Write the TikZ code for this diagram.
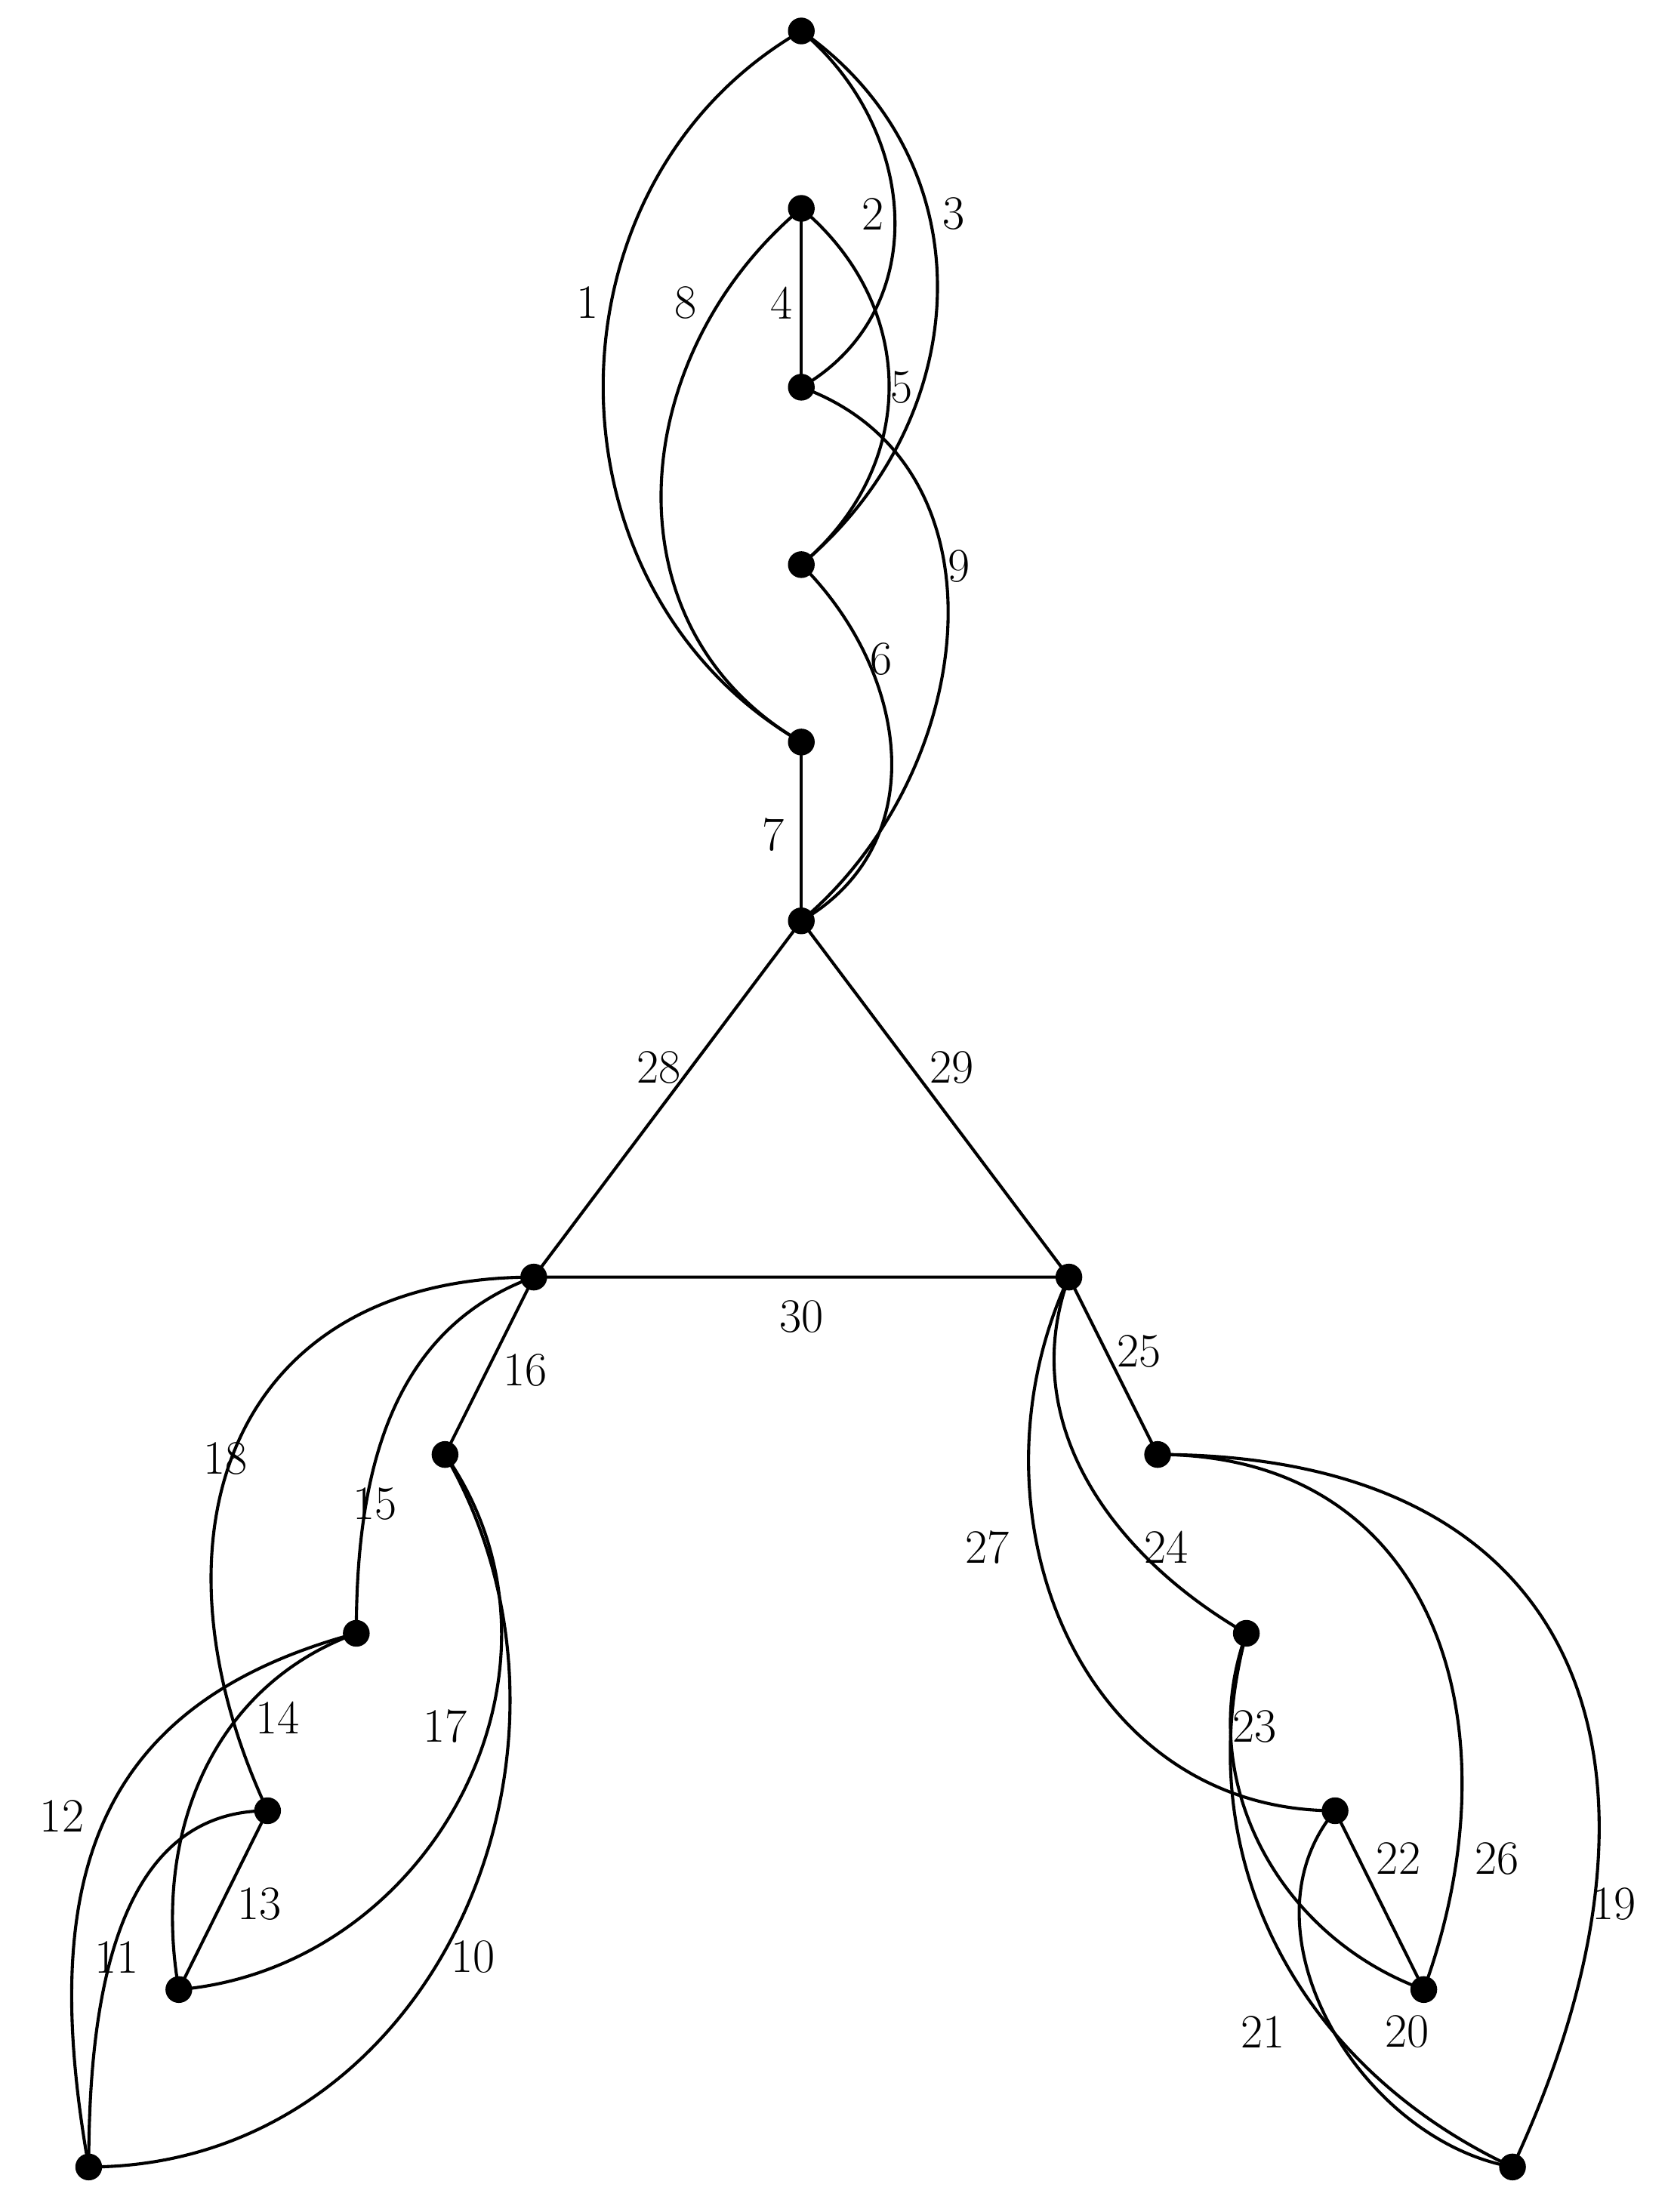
\documentclass[tikz,border=0pt]{standalone}
\begin{document}
\begin{tikzpicture}[x=1pt,y=-1pt,
  v/.style={circle,fill=black,inner sep=0pt,minimum size=19pt},
  e/.style={line width=2.2pt},
  lb/.style={font=\fontsize{34}{40}\selectfont,inner sep=0pt}]
\useasboundingbox (0,0) rectangle (1184,1571);
\node[v] (A) at (569,22) {};
\node[v] (B) at (569,148) {};
\node[v] (C) at (569,275) {};
\node[v] (D) at (569,401) {};
\node[v] (E) at (569,527) {};
\node[v] (F) at (569,654) {};
\node[v] (L) at (379,907) {};
\node[v] (R) at (759,907) {};
\node[v] (G) at (316,1033) {};
\node[v] (H) at (253,1160) {};
\node[v] (I) at (190,1286) {};
\node[v] (J) at (127,1413) {};
\node[v] (K) at (63,1539) {};
\node[v] (M) at (822,1033) {};
\node[v] (N) at (885,1160) {};
\node[v] (O) at (948,1286) {};
\node[v] (P) at (1011,1413) {};
\node[v] (Q) at (1074,1539) {};
\begin{scope}[e]
\draw (A.center) to[out=210,in=150,looseness=1.1] (E.center);
\draw (A.center) to[out=-40,in=30,looseness=1.1] (C.center);
\draw (A.center) to[out=-35,in=40,looseness=1.1] (D.center);
\draw (B.center) -- (C.center);
\draw (B.center) to[out=-40,in=40,looseness=1.1] (D.center);
\draw (B.center) to[out=220,in=150,looseness=1.1] (E.center);
\draw (C.center) to[out=-20,in=40,looseness=1.1] (F.center);
\draw (D.center) to[out=-45,in=30,looseness=1.1] (F.center);
\draw (E.center) -- (F.center);
\draw (F.center) -- (L.center) -- (R.center) -- (F.center);
\draw (L.center) -- (G.center);
\draw (R.center) -- (M.center);
\draw (L.center) to[out=180,in=115,looseness=1.3] (I.center);
\draw (L.center) to[out=200,in=90,looseness=1.0] (H.center);
\draw (G.center) to[out=-55,in=5,looseness=1.1] (J.center);
\draw (G.center) to[out=-60,in=0,looseness=1.1] (K.center);
\draw (H.center) to[out=200,in=100,looseness=1.0] (J.center);
\draw (H.center) to[out=195,in=100,looseness=1.2] (K.center);
\draw (I.center) -- (J.center);
\draw (I.center) to[out=180,in=90,looseness=1.0] (K.center);
\draw (R.center) to[out=245,in=180,looseness=1.1] (O.center);
\draw (R.center) to[out=250,in=150,looseness=1.0] (N.center);
\draw (M.center) to[out=0,in=70,looseness=1.2] (P.center);
\draw (M.center) to[out=0,in=65,looseness=1.4] (Q.center);
\draw (N.center) to[out=250,in=160,looseness=1.0] (P.center);
\draw (N.center) to[out=255,in=155,looseness=1.0] (Q.center);
\draw (O.center) -- (P.center);
\draw (O.center) to[out=230,in=170,looseness=1.0] (Q.center);
\end{scope}
\node[lb] (l1) at (417,215) {1};
\node[lb] (l2) at (620,152) {2};
\node[lb] (l3) at (677,152) {3};
\node[lb] (l4) at (555,215) {4};
\node[lb] (l5) at (640,275) {5};
\node[lb] (l6) at (626,468) {6};
\node[lb] (l7) at (549,593) {7};
\node[lb] (l8) at (487,215) {8};
\node[lb] (l9) at (681,402) {9};
\node[lb] (l10) at (336,1390) {10};
\node[lb] (l11) at (83,1390) {11};
\node[lb] (l12) at (44,1290) {12};
\node[lb] (l13) at (184,1352) {13};
\node[lb] (l14) at (197,1220) {14};
\node[lb] (l15) at (266,1068) {15};
\node[lb] (l16) at (373,973) {16};
\node[lb] (l17) at (316,1226) {17};
\node[lb] (l18) at (160,1036) {18};
\node[lb] (l19) at (1146,1352) {19};
\node[lb] (l20) at (999,1443) {20};
\node[lb] (l21) at (897,1443) {21};
\node[lb] (l22) at (993,1320) {22};
\node[lb] (l23) at (891,1226) {23};
\node[lb] (l24) at (828,1099) {24};
\node[lb] (l25) at (809,960) {25};
\node[lb] (l26) at (1063,1320) {26};
\node[lb] (l27) at (701,1099) {27};
\node[lb] (l28) at (468,758) {28};
\node[lb] (l29) at (676,758) {29};
\node[lb] (l30) at (569,935) {30};
\end{tikzpicture}
\end{document}
